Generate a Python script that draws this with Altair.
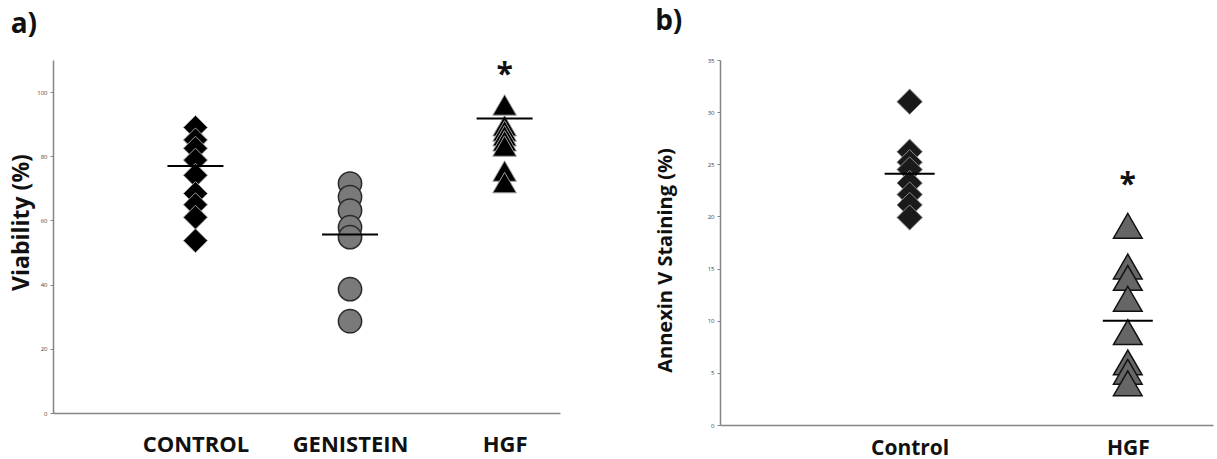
import altair as alt
import pandas as pd

# ---- Panel a) data (Viability %) ----
a_groups = ["CONTROL", "GENISTEIN", "HGF"]
a_control = [89.0, 85.1, 82.5, 78.8, 74.1, 68.4, 64.9, 61.0, 53.7]
a_genistein = [71.5, 67.3, 63.1, 57.9, 54.8, 38.6, 28.6]
a_hgf = [96.0, 89.5, 87.9, 86.4, 84.8, 83.2, 75.4, 71.8]
a_means = [77.0, 55.6, 91.8]
a_star_group = ["HGF"]
a_star_value = [107.8]
a_yticks = [0, 20, 40, 60, 80, 100]

# ---- Panel b) data (Annexin V staining %) ----
b_groups = ["Control", "HGF"]
b_control = [31.0, 26.2, 25.2, 24.5, 23.2, 22.1, 21.1, 19.9]
b_hgf = [19.1, 15.2, 14.1, 12.1, 8.9, 6.0, 5.1, 4.0]
b_means = [24.1, 10.0]
b_star_group = ["HGF"]
b_star_value = [23.8]
b_yticks = [0, 5, 10, 15, 20, 25, 30, 35]

FONT = "Open Sans"
AXIS_GRAY = "#858585"


def pts(group, values):
    return pd.DataFrame({"group": [group] * len(values), "value": values})


# ================= Panel a =================
xa = alt.X("group:N", scale=alt.Scale(type="point", domain=a_groups, padding=0.64, align=0.72),
           axis=alt.Axis(title=None, ticks=False, labelAngle=0, labelFont=FONT, labelFontSize=22,
                         labelFontWeight="bold", labelColor="#111", labelPadding=21,
                         domainColor=AXIS_GRAY, domainWidth=1.5))
ya = alt.Y("value:Q", scale=alt.Scale(domain=[0, 110], nice=False, zero=True),
           axis=alt.Axis(title="Viability (%)", values=a_yticks, titleFont=FONT, titleFontSize=23,
                         titleFontWeight="bold", titleColor="#111", titlePadding=3, titleY=162,
                         labelFont=FONT, labelFontSize=6, labelColor="#444", labelPadding=3,
                         tickSize=3, tickColor=AXIS_GRAY, domainColor=AXIS_GRAY, domainWidth=1.5,
                         grid=False))

a_c = alt.Chart(pts("CONTROL", a_control)).mark_point(
    shape="diamond", filled=True, fill="#000", stroke="#a0a0a0", strokeWidth=1, size=576, opacity=1
).encode(x=xa, y=ya)
a_g = alt.Chart(pts("GENISTEIN", a_genistein)).mark_point(
    shape="circle", filled=True, fill="#7a7a7a", stroke="#2a2a2a", strokeWidth=1.5, size=540, opacity=1
).encode(x=xa, y=ya)
a_h = alt.Chart(pts("HGF", a_hgf)).mark_point(
    shape="triangle-up", filled=True, fill="#000", stroke="#a0a0a0", strokeWidth=1, size=560, opacity=1
).encode(x=xa, y=ya)
a_m = alt.Chart(pd.DataFrame({"group": a_groups, "value": a_means})).mark_tick(
    color="#000", thickness=2, size=56, opacity=1
).encode(x=xa, y=ya)
a_s = alt.Chart(pd.DataFrame({"group": a_star_group, "value": a_star_value})).mark_text(
    text="*", font=FONT, fontSize=30, fontWeight="bold", color="#111", dy=8
).encode(x=xa, y=ya)

panel_a = alt.layer(a_c, a_g, a_h, a_m, a_s).properties(
    width=507, height=353,
    title=alt.Title("a)", anchor="start", frame="bounds", font=FONT, fontSize=28,
                    fontWeight="bold", color="#111", offset=21)
)

# ================= Panel b =================
xb = alt.X("group:N", scale=alt.Scale(type="point", domain=b_groups, padding=0.63, align=0.69),
           axis=alt.Axis(title=None, ticks=False, labelAngle=0, labelFont=FONT, labelFontSize=21,
                         labelFontWeight="bold", labelColor="#111", labelPadding=12,
                         domainColor=AXIS_GRAY, domainWidth=1.5))
yb = alt.Y("value:Q", scale=alt.Scale(domain=[0, 35], nice=False, zero=True),
           axis=alt.Axis(title="Annexin V Staining (%)", values=b_yticks, titleFont=FONT,
                         titleFontSize=20, titleFontWeight="bold", titleColor="#111", titlePadding=32,
                         titleY=200,
                         labelFont=FONT, labelFontSize=6, labelColor="#444", labelPadding=3,
                         tickSize=3, tickColor=AXIS_GRAY, domainColor=AXIS_GRAY, domainWidth=1.5,
                         grid=False))

b_c = alt.Chart(pts("Control", b_control)).mark_point(
    shape="diamond", filled=True, fill="#1a1a1a", stroke="#8a8a8a", strokeWidth=1, size=640, opacity=1
).encode(x=xb, y=yb)
b_h = alt.Chart(pts("HGF", b_hgf)).mark_point(
    shape="triangle-up", filled=True, fill="#666666", stroke="#111", strokeWidth=1.5, size=820, opacity=1
).encode(x=xb, y=yb)
b_m = alt.Chart(pd.DataFrame({"group": b_groups, "value": b_means})).mark_tick(
    color="#000", thickness=2, size=50, opacity=1
).encode(x=xb, y=yb)
b_s = alt.Chart(pd.DataFrame({"group": b_star_group, "value": b_star_value})).mark_text(
    text="*", font=FONT, fontSize=30, fontWeight="bold", color="#111", dy=8
).encode(x=xb, y=yb)

panel_b = alt.layer(b_c, b_h, b_m, b_s).properties(
    width=493, height=365,
    title=alt.Title("b)", anchor="start", frame="bounds", font=FONT, fontSize=28,
                    fontWeight="bold", color="#111", offset=21)
)

chart = alt.hconcat(panel_a, panel_b, spacing=95).properties(
    padding={"left": 10, "top": 8, "right": 2, "bottom": 0},
    background="white",
).configure_view(stroke=None)

chart.save("out.html", embed_options={"renderer": "svg", "actions": False})
